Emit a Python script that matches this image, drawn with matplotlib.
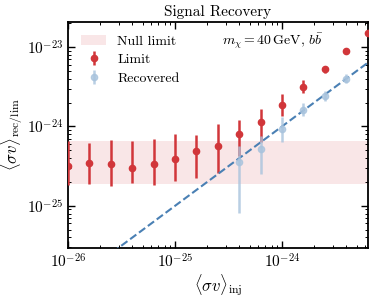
import numpy as np
import matplotlib
matplotlib.use("Agg")
import matplotlib.pyplot as plt
from matplotlib.patches import Patch
from matplotlib.ticker import LogLocator, NullFormatter

# injected cross sections (0.2 dex steps)
sv_inj = 10 ** np.arange(-26.0, -23.19, 0.2)

# limit: central value and band edges
lim_mid = np.array([3.14e-25, 3.49e-25, 3.40e-25, 2.99e-25, 3.40e-25, 3.93e-25, 4.85e-25,
                    5.65e-25, 7.92e-25, 1.146e-24, 1.875e-24, 3.12e-24, 5.21e-24, 8.85e-24, 1.48e-23])
lim_hi = np.array([6.48e-25, 6.11e-25, 6.67e-25, 6.48e-25, 7.0e-25, 7.92e-25, 7.7e-25,
                   1.08e-24, 1.22e-24, 1.64e-24, 2.53e-24, 3.79e-24, 5.73e-24, 9.3e-24, 1.5e-23])
lim_lo = np.array([1.81e-25, 1.90e-25, 1.76e-25, 1.96e-25, 1.83e-25, 2.05e-25, 2.24e-25,
                   2.62e-25, 4.2e-25, 6.3e-25, 1.35e-24, 2.65e-24, 4.65e-24, 8.4e-24, 1.46e-23])

# recovered signal (only where detected)
rec_inj = sv_inj[8:14]
rec_mid = np.array([3.6e-25, 5.24e-25, 9.17e-25, 1.60e-24, 2.40e-24, 3.98e-24])
rec_hi = np.array([5.65e-25, 7.48e-25, 1.30e-24, 1.95e-24, 2.78e-24, 4.51e-24])
rec_lo = np.array([8.05e-26, 2.49e-25, 6.35e-25, 1.35e-24, 2.08e-24, 3.48e-24])

null_lo, null_hi = 1.86e-25, 6.53e-25

xticks = [1e-26, 1e-25, 1e-24]
yticks = [1e-25, 1e-24, 1e-23]

plt.rcParams['font.family'] = 'cmr10'
plt.rcParams['mathtext.fontset'] = 'cm'
plt.rcParams['axes.formatter.use_mathtext'] = True

red = '#d1363a'
blue_pt = '#a8c3dd'
blue_ln = '#4a80b4'

fig = plt.figure(figsize=(3.74, 2.98), dpi=100)
ax = fig.add_axes([0.182, 0.168, 0.802, 0.758])

ax.axhspan(null_lo, null_hi, color=red, alpha=0.12, lw=0)

xx = np.array([1e-26, 1e-22])
ax.plot(xx, xx, ls='--', color=blue_ln, lw=1.5, zorder=4)

ax.errorbar(sv_inj, lim_mid, yerr=[lim_mid - lim_lo, lim_hi - lim_mid], fmt='o',
            color=red, ms=4.5, elinewidth=1.8, capsize=0, zorder=3)
ax.errorbar(rec_inj, rec_mid, yerr=[rec_mid - rec_lo, rec_hi - rec_mid], fmt='o',
            color=blue_pt, ms=4.5, elinewidth=1.8, capsize=0, alpha=0.8, zorder=5)

ax.set_xscale('log')
ax.set_yscale('log')
ax.set_xlim(1e-26, 10 ** -23.196)
ax.set_ylim(10 ** -25.53, 10 ** -22.686)
ax.set_xticks(xticks)
ax.set_yticks(yticks)
ax.xaxis.set_minor_locator(LogLocator(base=10, subs=np.arange(2, 10)))
ax.yaxis.set_minor_locator(LogLocator(base=10, subs=np.arange(2, 10)))
ax.xaxis.set_minor_formatter(NullFormatter())
ax.yaxis.set_minor_formatter(NullFormatter())

ax.tick_params(which='both', direction='in', top=True, right=True, labelsize=11)
ax.tick_params(which='major', length=5, width=1.0)
ax.tick_params(which='minor', length=2.5, width=0.7)
for s in ax.spines.values():
    s.set_linewidth(1.3)

ax.set_xlabel(r'$\langle\sigma v\rangle_{\rm inj}$', fontsize=12, labelpad=1)
ax.set_ylabel(r'$\langle\sigma v\rangle_{\rm rec/lim}$', fontsize=12, labelpad=1)
ax.set_title('Signal Recovery', fontsize=11, pad=4)

ax.text(0.68, 0.915, r'$m_\chi = 40\,{\rm GeV},\, b\bar{b}$', transform=ax.transAxes,
        ha='center', va='center', fontsize=10)

h_null = Patch(facecolor=red, alpha=0.12, lw=0)
h_lim = ax.errorbar([], [], yerr=[], fmt='o', color=red, ms=4.5, elinewidth=1.8)
h_rec = ax.errorbar([], [], yerr=[], fmt='o', color=blue_pt, ms=4.5, elinewidth=1.8, alpha=0.8)
ax.legend([h_null, h_lim, h_rec], ['Null limit', 'Limit', 'Recovered'], loc='upper left',
          frameon=False, fontsize=10, handlelength=1.8, borderaxespad=0.55, labelspacing=0.4)

fig.savefig('out.png', dpi=100)
